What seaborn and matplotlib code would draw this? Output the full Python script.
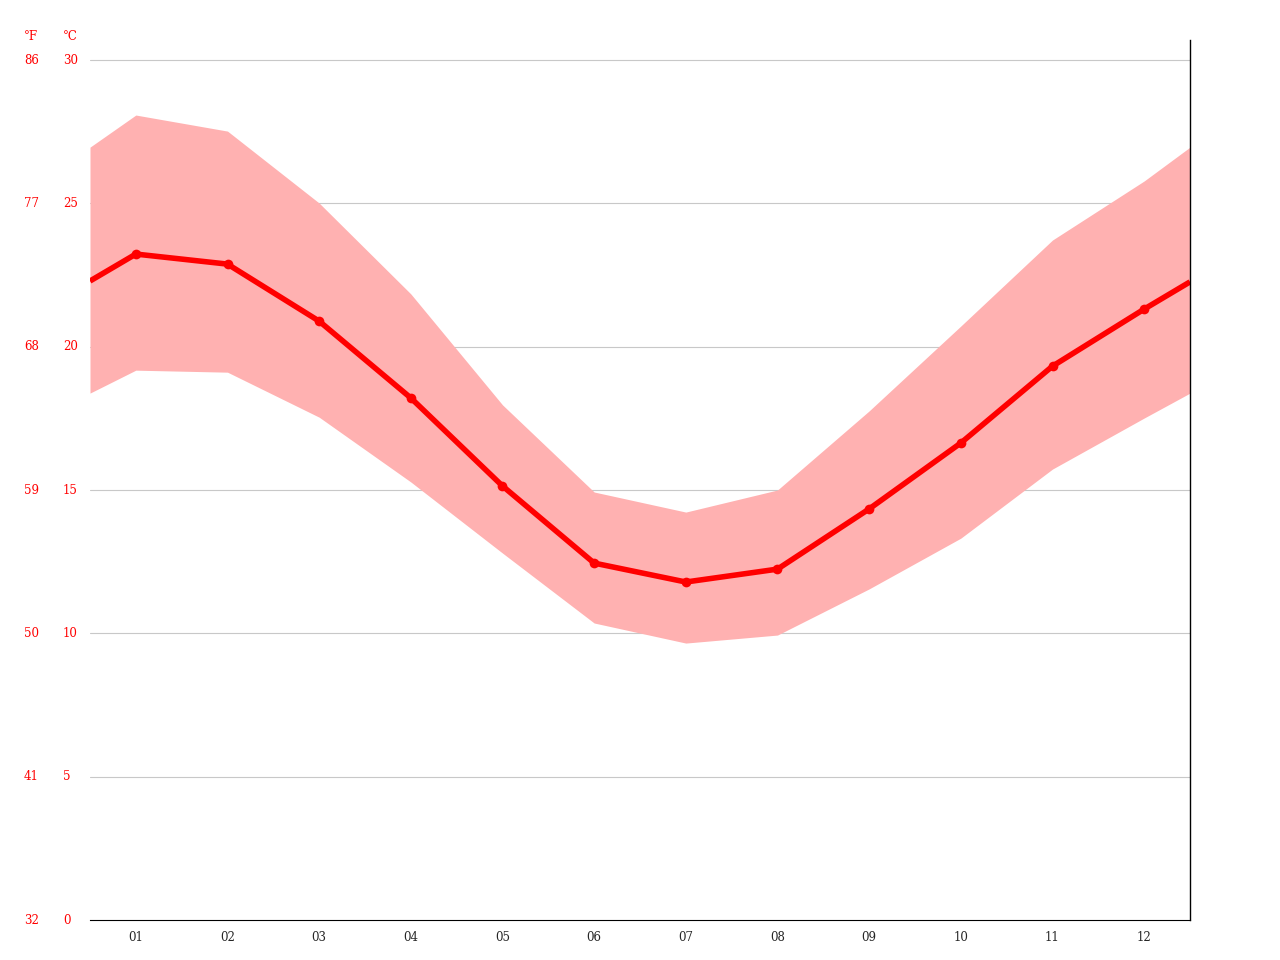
import numpy as np
import pandas as pd
import matplotlib
matplotlib.use("Agg")
import matplotlib.pyplot as plt
import seaborn as sns

# DATA; edges at 0.5 / 12.5 are the year wrap-around values
months = ["01", "02", "03", "04", "05", "06", "07", "08", "09", "10", "11", "12"]
mean_c = [23.23, 22.88, 20.89, 18.21, 15.14, 12.45, 11.79, 12.24, 14.34, 16.64, 19.32, 21.31]
max_c = [28.08, 27.52, 25.01, 21.84, 17.97, 14.93, 14.23, 15.00, 17.76, 20.72, 23.72, 25.78]
min_c = [19.18, 19.11, 17.54, 15.28, 12.80, 10.36, 9.66, 9.94, 11.55, 13.32, 15.73, 17.51]
edge_mean = [22.29, 22.26]
edge_max = [26.96, 26.96]
edge_min = [18.38, 18.38]
c_ticks = [0, 5, 10, 15, 20, 25, 30]
f_ticks = [32, 41, 50, 59, 68, 77, 86]

sns.set_style("white")
plt.rcParams["font.family"] = ["DejaVu Serif"]

x = np.arange(1, 13)
xe = np.concatenate([[0.5], x, [12.5]])
mean_e = [edge_mean[0]] + mean_c + [edge_mean[1]]
max_e = [edge_max[0]] + max_c + [edge_max[1]]
min_e = [edge_min[0]] + min_c + [edge_min[1]]

fig = plt.figure(figsize=(12.8, 9.6), dpi=100)
ax = fig.add_axes([90 / 1280, 40 / 960, 1100 / 1280, 880 / 960])
ymax = 880 / (860 / 30)

for t in c_ticks[1:]:
    ax.axhline(t, color="#c8c8c8", lw=0.8, zorder=0)

ax.fill_between(xe, min_e, max_e, color="#ffb1b1", lw=0, zorder=1)
ax.plot(xe, mean_e, color="#ff0000", lw=4, zorder=2, solid_capstyle="butt")
df = pd.DataFrame({"month": x, "mean": mean_c})
sns.lineplot(data=df, x="month", y="mean", ax=ax, color="#ff0000", lw=0,
             marker="o", markersize=7, markeredgewidth=0, zorder=3)

ax.set_xlim(0.5, 12.5)
ax.set_ylim(0, ymax)
ax.set_xlabel("")
ax.set_ylabel("")
ax.set_yticks([])
ax.set_xticks(x)
ax.set_xticklabels(months, fontsize=8.5)
ax.set_xticks(np.arange(0.5, 13, 1), minor=True)
ax.tick_params(axis="x", which="major", length=0, pad=8)
ax.tick_params(axis="x", which="minor", length=4, width=0.8, color="black", direction="out")
for s in ["top", "left"]:
    ax.spines[s].set_visible(False)
ax.spines["bottom"].set_color("black")
ax.spines["bottom"].set_linewidth(0.8)
ax.spines["right"].set_color("black")
ax.spines["right"].set_linewidth(1.0)

# dual temperature scale labels
for c, f in zip(c_ticks, f_ticks):
    yp = (40 + c * 860 / 30) / 960
    fig.text(24 / 1280, yp, str(f), color="#ff0000", fontsize=8.5, va="center")
    fig.text(63 / 1280, yp, str(c), color="#ff0000", fontsize=8.5, va="center")
fig.text(24 / 1280, 1 - 36 / 960, "°F", color="#ff0000", fontsize=8.5, va="center")
fig.text(63 / 1280, 1 - 36 / 960, "°C", color="#ff0000", fontsize=8.5, va="center")

fig.savefig("out.png", dpi=100)
